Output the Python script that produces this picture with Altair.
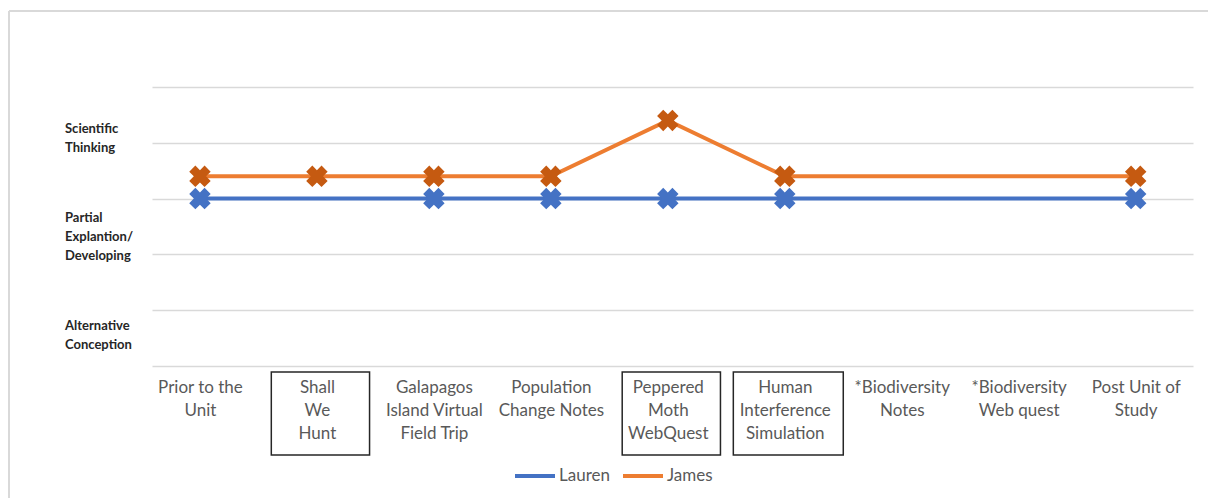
import json
import altair as alt
import pandas as pd

# Activities along the unit, with the wrapped text used for the axis labels
categories = [
    "Prior to the Unit",
    "Shall We Hunt",
    "Galapagos Island Virtual Field Trip",
    "Population Change Notes",
    "Peppered Moth WebQuest",
    "Human Interference Simulation",
    "*Biodiversity Notes",
    "*Biodiversity Web quest",
    "Post Unit of Study",
]
category_lines = [
    ["Prior to the", "Unit"],
    ["Shall", "We", "Hunt"],
    ["Galapagos", "Island Virtual", "Field Trip"],
    ["Population", "Change Notes"],
    ["Peppered", "Moth", "WebQuest"],
    ["Human", "Interference", "Simulation"],
    ["*Biodiversity", "Notes"],
    ["*Biodiversity", "Web quest"],
    ["Post Unit of", "Study"],
]

# Rubric scores per student (None = not assessed)
lauren = [3.0, None, 3.0, 3.0, 3.0, 3.0, None, None, 3.0]
james = [3.4, 3.4, 3.4, 3.4, 4.4, 3.4, None, None, 3.4]

# Rubric level names and the score at which each name's first line sits
levels = ["Scientific\nThinking", "Partial\nExplantion/\nDeveloping", "Alternative\nConception"]
level_pos = [4.25, 2.65, 0.72]

# Activities whose labels are framed
boxed = ["Shall We Hunt", "Peppered Moth WebQuest", "Human Interference Simulation"]
box_half = [0.42, 0.42, 0.47]
BOX_SHIFT = 0.03

students = ["Lauren", "James"]
line_colors = ["#4472C4", "#ED7D31"]
marker_colors = ["#4472C4", "#C55A11"]

rows = []
for name, series in zip(students, [lauren, james]):
    for i, v in enumerate(series):
        if v is not None:
            rows.append({"student": name, "idx": i, "activity": categories[i], "score": v})
scores = pd.DataFrame(rows)

level_df = pd.DataFrame({"level": levels, "pos": level_pos})
box_df = pd.DataFrame({
    "activity": boxed,
    "lo": [categories.index(b) + BOX_SHIFT - h for b, h in zip(boxed, box_half)],
    "hi": [categories.index(b) + BOX_SHIFT + h for b, h in zip(boxed, box_half)],
})

W, H = 1041, 279
FONT = "Lato"

x_scale = alt.Scale(domain=[-0.41, 8.49], nice=False, zero=False)
y_scale = alt.Scale(domain=[0, 5], nice=False, zero=False)

label_expr = f"{json.dumps(category_lines)}[round(datum.value)]"

x_axis = alt.Axis(
    values=list(range(len(categories))),
    labelExpr=label_expr,
    grid=False, domain=False, ticks=False, title=None,
    labelPadding=13, labelFontSize=17, labelLineHeight=23,
    labelColor="#595959", labelFont=FONT, labelBaseline="top",
    labelOverlap=False, labelBound=False, labelFlush=False,
)
y_axis = alt.Axis(
    values=[0, 1, 2, 3, 4, 5], labels=False, ticks=False, domain=False,
    title=None, grid=True, gridColor="#d9d9d9", gridWidth=1.5,
)

base = alt.Chart(scores)

lines = base.mark_line(strokeWidth=4).encode(
    x=alt.X("idx:Q", scale=x_scale, axis=x_axis),
    y=alt.Y("score:Q", scale=y_scale, axis=y_axis),
    color=alt.Color(
        "student:N",
        scale=alt.Scale(domain=students, range=line_colors),
        legend=alt.Legend(
            title=None, orient="none", legendX=361, legendY=367,
            direction="horizontal", symbolType="stroke", symbolSize=1600,
            symbolStrokeWidth=4, labelFontSize=17, labelColor="#595959",
            labelFont=FONT, labelOffset=2, columnPadding=5,
        ),
    ),
    order=alt.Order("idx:Q"),
)

markers = base.mark_point(shape="cross", angle=45, filled=True, size=470, opacity=1).encode(
    x=alt.X("idx:Q", scale=x_scale),
    y=alt.Y("score:Q", scale=y_scale),
    fill=alt.Fill("student:N", scale=alt.Scale(domain=students, range=marker_colors), legend=None),
)

level_text = alt.Chart(level_df).mark_text(
    align="left", baseline="middle", lineBreak="\n", fontSize=13,
    fontWeight="bold", font=FONT, color="#262626", lineHeight=19,
).encode(
    x=alt.value(-87),
    y=alt.Y("pos:Q", scale=y_scale),
    text="level:N",
)

boxes = alt.Chart(box_df).mark_rect(
    fill=None, fillOpacity=0, stroke="#262626", strokeWidth=1.5
).encode(
    x=alt.X("lo:Q", scale=x_scale),
    x2="hi:Q",
    y=alt.value(285),
    y2=alt.value(368),
)

frame_data = alt.Data(values=[{}])
frame_left = alt.Chart(frame_data).mark_rule(color="#d9d9d9", strokeWidth=2).encode(
    x=alt.value(-143), y=alt.value(-76), y2=alt.value(411)
)
frame_top = alt.Chart(frame_data).mark_rule(color="#d9d9d9", strokeWidth=2).encode(
    x=alt.value(-143), x2=alt.value(1056), y=alt.value(-76)
)

chart = (
    alt.layer(frame_left, frame_top, lines, markers, level_text, boxes)
    .properties(
        width=W, height=H, background="white",
        padding={"left": 8, "top": 10, "right": 0, "bottom": 0},
    )
    .configure_view(strokeWidth=0)
    .configure_axis(domain=False)
)

chart.save("out.html", embed_options={"renderer": "svg", "actions": False})
